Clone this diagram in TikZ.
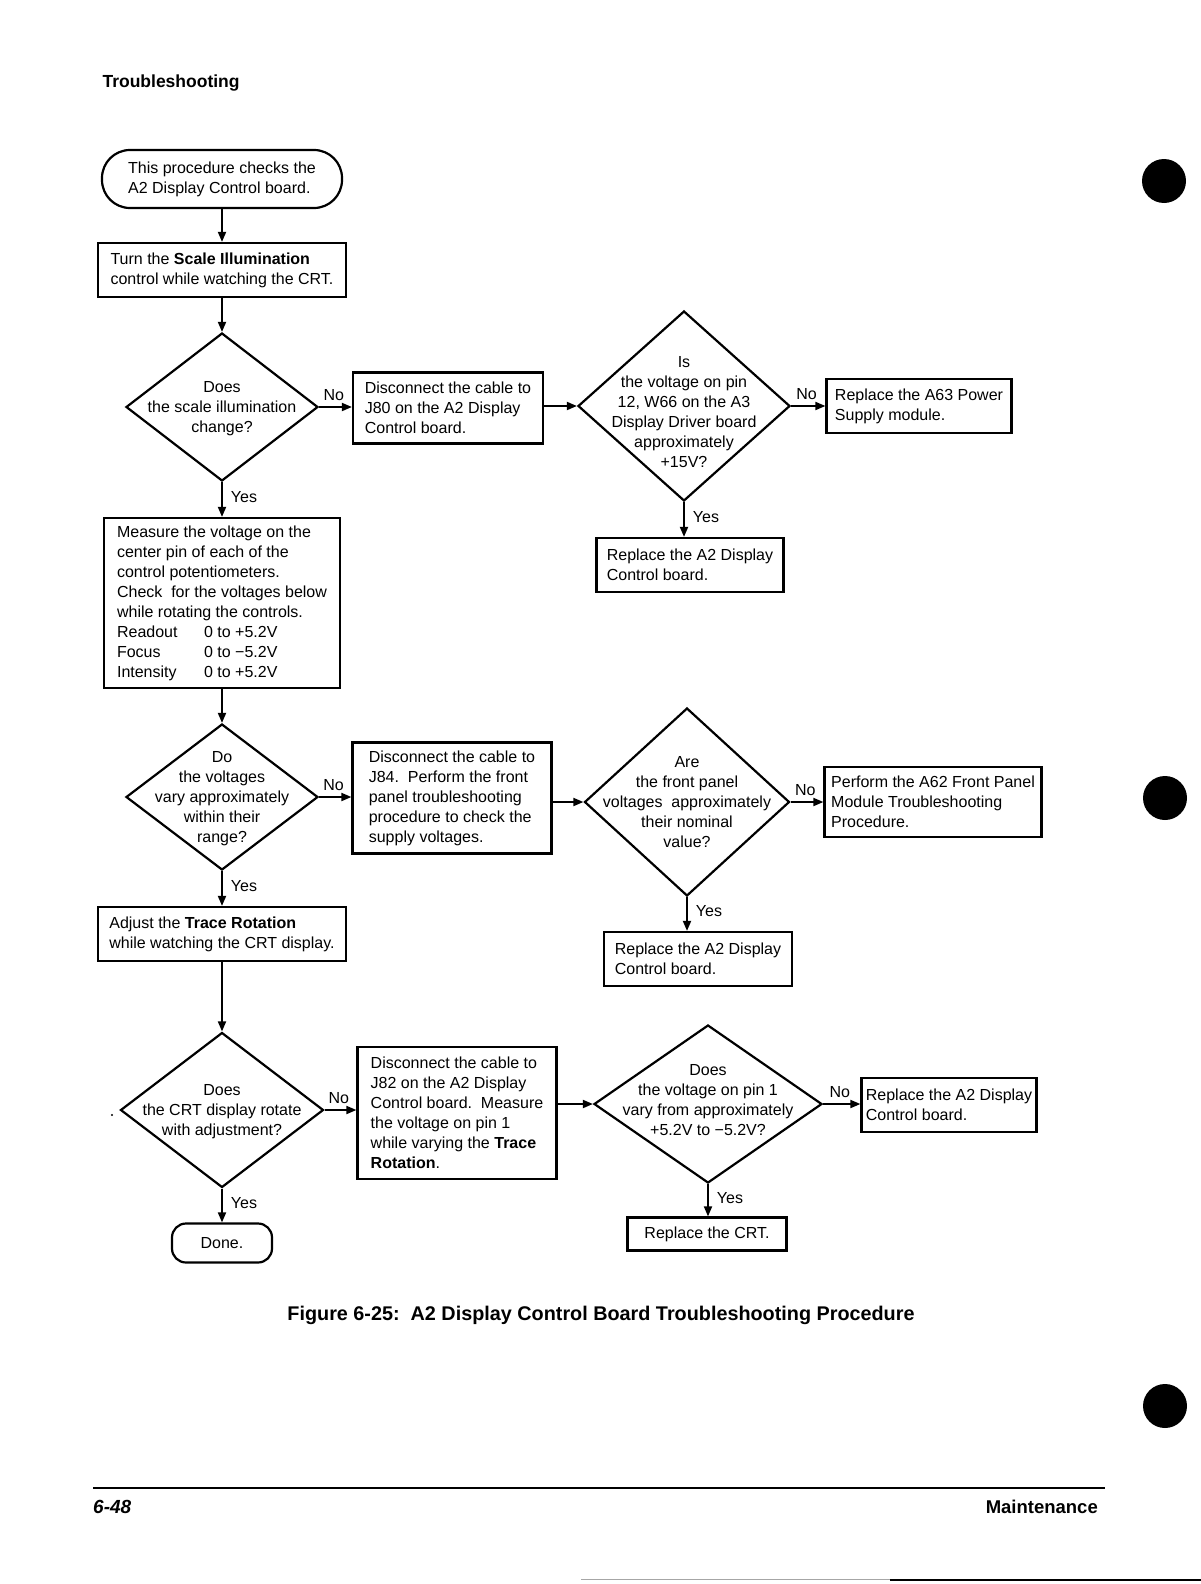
\documentclass[tikz,border=0pt]{standalone}
\usepackage{fontspec}
\setmainfont{Liberation Sans}
\usetikzlibrary{arrows.meta, shapes.geometric}

% question text inside a diamond, kept out of the shape size
\newcommand{\asktext}[2][0pt]{\makebox[0pt]{\raisebox{\dimexpr-5.5pt-#1\relax}[0pt][0pt]{\begin{tabular}{@{}c@{}}#2\end{tabular}}}}

\begin{document}
\begin{tikzpicture}[
    x=1pt, y=-1pt,
    every node/.style={font=\fontsize{16}{20}\selectfont},
    procbox/.style={draw, line width=2.2pt, rectangle, align=left, inner sep=0pt},
    terminal/.style={draw, line width=2.2pt, rectangle, align=left, inner sep=0pt},
    decision/.style={draw, line width=2.2pt, diamond, inner sep=0pt},
    nolabel/.style={above, pos=0.45, inner sep=5pt},
    yeslabel/.style={right, pos=0.42, inner xsep=8pt},
    flow/.style={line width=1.8pt, -{Triangle[length=10pt, width=8pt]}}
]

% --- Page ---
\useasboundingbox (0,0) rectangle (1201,1584);
\fill[white] (0,0) rectangle (1201,1584);

% --- Header ---
\node[anchor=west, font=\fontsize{17.5}{20}\selectfont\bfseries] (hdr) at (99,83) {Troubleshooting};

% --- Left column ---
\node[terminal, rounded corners=28pt, minimum width=240pt, minimum height=58pt] (start) at (222,179)
    {This procedure checks the\\A2 Display Control board.};
\node[procbox, minimum width=248pt, minimum height=54pt] (turn) at (222,270)
    {Turn the \textbf{Scale Illumination}\\control while watching the CRT.};
\node[decision, minimum width=192pt, minimum height=148pt] (qillum) at (222,407)
    {\asktext{Does\\the scale illumination\\change?}};
\node[procbox, minimum width=236pt, minimum height=170pt] (measure) at (222,603)
    {Measure the voltage on the\\center pin of each of the\\control potentiometers.\\Check\ \ for the voltages below\\while rotating the controls.\\
     \makebox[87pt][l]{Readout}0 to +5.2V\\\makebox[87pt][l]{Focus}0 to −5.2V\\\makebox[87pt][l]{Intensity}0 to +5.2V};
\node[decision, minimum width=192pt, minimum height=146pt] (qvolts) at (222,797)
    {\asktext{Do\\the voltages\\vary approximately\\within their\\range?}};
\node[procbox, minimum width=248pt, minimum height=54pt] (trace) at (222,934)
    {Adjust the \textbf{Trace Rotation}\\while watching the CRT display.};
\node[decision, minimum width=203pt, minimum height=155pt] (qrotate) at (222,1110)
    {\asktext{Does\\the CRT display rotate\\with adjustment?}};
\node[terminal, rounded corners=14pt, minimum width=100pt, minimum height=39pt] (done) at (222,1243) {Done.};
\fill (112,1115) circle (1.2);

% --- Middle column ---
\node[procbox, minimum width=190pt, minimum height=71pt] (discJ80) at (448,408)
    {Disconnect the cable to\\J80 on the A2 Display\\Control board.};
\node[procbox, minimum width=199pt, minimum height=111pt] (discJ84) at (452,798)
    {Disconnect the cable to\\J84.\ \ Perform the front\\panel troubleshooting\\procedure to check the\\supply voltages.};
\node[procbox, minimum width=199pt, minimum height=132pt] (discJ82) at (457,1113)
    {Disconnect the cable to\\J82 on the A2 Display\\Control board.\ \ Measure\\the voltage on pin 1\\while varying the \textbf{Trace}\\\textbf{Rotation}.};

% --- Right questions ---
\node[decision, minimum width=212pt, minimum height=190pt] (qfifteen) at (684,406)
    {\asktext[6pt]{Is\\the voltage on pin\\12, W66 on the A3\\Display Driver board\\approximately\\+15V?}};
\node[decision, minimum width=205pt, minimum height=188pt] (qpanel) at (687,802)
    {\asktext{Are\\the front panel\\voltages\ \ approximately\\their nominal\\value?}};
\node[decision, minimum width=228pt, minimum height=158pt] (qpin) at (708,1104)
    {\asktext[-4pt]{Does\\the voltage on pin 1\\vary from approximately\\+5.2V to −5.2V?}};

% --- Right results ---
\node[procbox, minimum width=185pt, minimum height=54pt] (psupply) at (919,406)
    {Replace the A63 Power\\Supply module.};
\node[procbox, minimum width=187pt, minimum height=54pt] (replA2a) at (690,565)
    {Replace the A2 Display\\Control board.};
\node[procbox, minimum width=217pt, minimum height=70pt] (frontpanel) at (933,802)
    {Perform the A62 Front Panel\\Module Troubleshooting\\Procedure.};
\node[procbox, minimum width=188pt, minimum height=54pt] (replA2b) at (698,959)
    {Replace the A2 Display\\Control board.};
\node[procbox, minimum width=175pt, minimum height=54pt] (replA2c) at (949,1105)
    {Replace the A2 Display\\Control board.};
\node[procbox, minimum width=159pt, minimum height=33pt] (replCRT) at (707,1234)
    {Replace the CRT.};

% --- Connectors ---
\draw[flow] (start) -- (turn);
\draw[flow] (turn) -- (qillum);
\draw[flow] (qillum.east) -- node[nolabel] (no1) {No} (qillum.east -| discJ80.west);
\draw[flow] (qfifteen.west -| discJ80.east) -- (qfifteen.west);
\draw[flow] (qfifteen.east) -- node[nolabel] (no2) {No} (qfifteen.east -| psupply.west);
\draw[flow] (qfifteen.south) -- node[yeslabel] (yes2) {Yes} (qfifteen.south |- replA2a.north);
\draw[flow] (qillum.south) -- node[yeslabel] (yes1) {Yes} (measure);
\draw[flow] (measure) -- (qvolts);
\draw[flow] (qvolts.east) -- node[nolabel] (no3) {No} (qvolts.east -| discJ84.west);
\draw[flow] (qpanel.west -| discJ84.east) -- (qpanel.west);
\draw[flow] (qpanel.east) -- node[nolabel] (no4) {No} (qpanel.east -| frontpanel.west);
\draw[flow] (qpanel.south) -- node[yeslabel] (yes4) {Yes} (qpanel.south |- replA2b.north);
\draw[flow] (qvolts.south) -- node[yeslabel] (yes3) {Yes} (trace);
\draw[flow] (trace) -- (qrotate);
\draw[flow] (qrotate.east) -- node[nolabel] (no5) {No} (qrotate.east -| discJ82.west);
\draw[flow] (qpin.west -| discJ82.east) -- (qpin.west);
\draw[flow] (qpin.east) -- node[nolabel] (no6) {No} (qpin.east -| replA2c.west);
\draw[flow] (qpin.south) -- node[yeslabel] (yes6) {Yes} (qpin.south |- replCRT.north);
\draw[flow] (qrotate.south) -- node[yeslabel] (yes5) {Yes} (done);

% --- Caption and footer ---
\node[font=\fontsize{19.8}{24}\selectfont\bfseries] (caption) at (601,1315)
    {Figure 6-25:\ \ A2 Display Control Board Troubleshooting Procedure};
\draw[line width=1.5pt] (93,1488) -- (1105,1488);
\node[anchor=west, inner xsep=0pt, font=\fontsize{19}{24}\selectfont\bfseries\itshape] (pagenum) at (93,1507) {6-48};
\node[anchor=east, inner xsep=0pt, font=\fontsize{18.5}{24}\selectfont\bfseries] (section) at (1098,1507) {Maintenance};

% --- Punch holes and scan marks ---
\fill (1164,181) circle (22);
\fill (1165,798) circle (22);
\fill (1165,1406) circle (22);
\draw[gray!70, line width=1pt] (581,1579) -- (890,1579);
\draw[line width=2.5pt] (890,1580) -- (1201,1580);

\end{tikzpicture}
\end{document}
